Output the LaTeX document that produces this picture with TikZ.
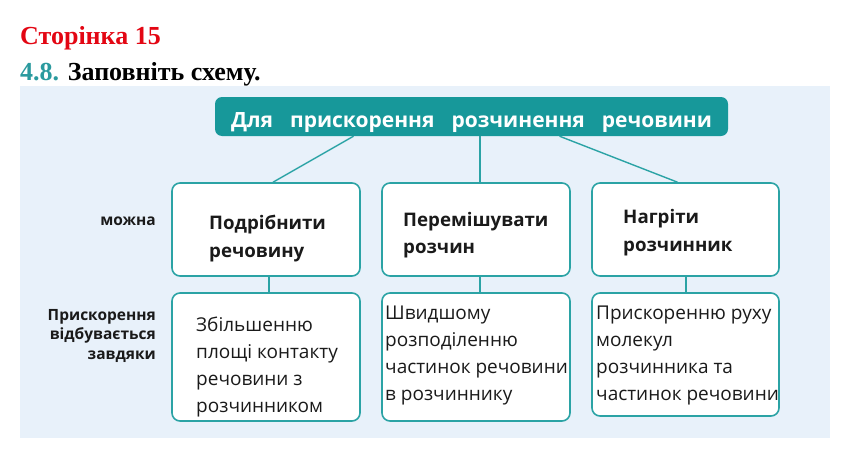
\documentclass[tikz,border=0pt]{standalone}
\usepackage{fontspec}
\setmainfont{Liberation Serif}
\newfontfamily\schemefont{Open Sans}
\definecolor{pagered}{HTML}{E30613}
\definecolor{taskteal}{HTML}{2A9A9E}
\definecolor{titlefill}{HTML}{17989A}
\definecolor{boxline}{HTML}{2BA3A5}
\definecolor{panel}{HTML}{E8F1FA}
\definecolor{ink}{HTML}{1A1A1A}
\tikzset{
  cell/.style={draw=boxline, line width=1.6pt, rounded corners=8pt,
               fill=white, inner sep=0pt},
  link/.style={draw=boxline, line width=1.4pt},
  headtext/.style={align=left, inner sep=0pt, text=ink,
                   font=\schemefont\bfseries\fontsize{18.7}{27.5}\selectfont},
  bodytext/.style={align=left, inner sep=0pt, text=ink,
                   font=\schemefont\fontsize{19}{26.7}\selectfont},
  sidelabel/.style={align=right, inner sep=0pt, text=ink,
                    font=\schemefont\bfseries\fontsize{15.5}{19.5}\selectfont}
}
\newcommand{\gap}{\hspace{17pt}}
\begin{document}
\begin{tikzpicture}[x=1pt,y=-1pt]
        \useasboundingbox (0,0) rectangle (852,458);
        \fill[panel] (20,86) rectangle (830,438);

        % heading
        \node[anchor=base west, inner sep=0pt, text=pagered,
              font=\bfseries\fontsize{26}{26}\selectfont] (page) at (20,44) {Сторінка 15};
        \node[anchor=base west, inner sep=0pt,
              font=\bfseries\fontsize{26}{26}\selectfont] (task) at (20,80)
              {\textcolor{taskteal}{4.8.} Заповніть схему.};

        % title bar
        \node[fill=titlefill, rounded corners=7pt, minimum width=513pt,
              minimum height=39pt, text=white, text height=21pt, text depth=0pt,
              font=\schemefont\bfseries\fontsize{21}{21}\selectfont] (title) at (471.5,116.5)
              {Для\gap прискорення\gap розчинення\gap речовини};

        % boxes
        \node[cell, minimum width=188pt, minimum height=93pt] (top1) at (266,229.5) {};
        \node[cell, minimum width=188pt, minimum height=93pt] (top2) at (476,229.5) {};
        \node[cell, minimum width=187pt, minimum height=93pt] (top3) at (685.5,229.5) {};

        \node[cell, minimum width=188pt, minimum height=128pt] (low1) at (266,357) {};
        \node[cell, minimum width=188pt, minimum height=128pt] (low2) at (476,357) {};
        \node[cell, minimum width=187pt, minimum height=123pt] (low3) at (685.5,354.5) {};

        \draw[link] ([xshift=-118pt]title.south) -- ([xshift=7pt]top1.north);
        \draw[link] ([xshift=8.5pt]title.south) -- ([xshift=4pt]top2.north);
        \draw[link] ([xshift=88pt]title.south) -- ([xshift=-8pt]top3.north);

        \draw[link] ([xshift=3pt]top1.south) -- ([xshift=3pt]low1.north);
        \draw[link] ([xshift=4pt]top2.south) -- ([xshift=4pt]low2.north);
        \draw[link] ([xshift=0.5pt]top3.south) -- ([xshift=0.5pt]low3.north);

        % texts (base = last line)
        \node[headtext, anchor=base west] (way1) at (209,257) {Подрібнити\\речовину};
        \node[headtext, anchor=base west] (way2) at (403,253.5) {Перемішувати\\розчин};
        \node[headtext, anchor=base west] (way3) at (623,251) {Нагріти\\розчинник};

        \node[bodytext, anchor=base west] (why1) at (196,412) {Збільшенню\\площі контакту\\речовини з\\розчинником};
        \node[bodytext, anchor=base west] (why2) at (385,400) {Швидшому\\розподіленню\\частинок речовини\\в розчиннику};
        \node[bodytext, anchor=base west] (why3) at (596,400) {Прискоренню руху\\молекул\\розчинника та\\частинок речовини};

        \node[sidelabel, anchor=base east] (can) at (156,225) {можна};
        \node[sidelabel, anchor=base east] (due) at (156,359) {Прискорення\\відбувається\\завдяки};
\end{tikzpicture}
\end{document}
